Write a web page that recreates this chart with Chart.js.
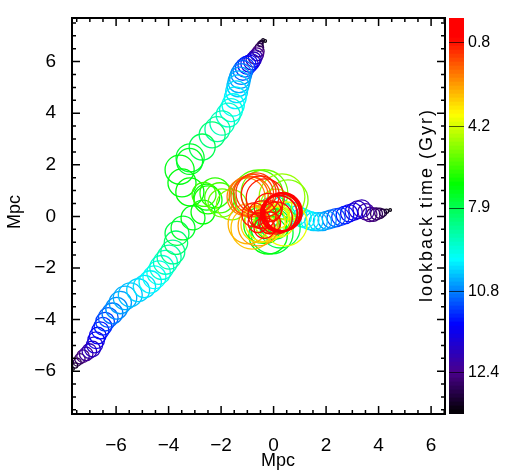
<!DOCTYPE html>
<html>
<head>
<meta charset="utf-8">
<script src="https://cdn.jsdelivr.net/npm/chart.js@4"></script>
<style>
html, body { margin: 0; padding: 0; background: #fff; }
#wrap { position: relative; width: 511px; height: 472px; }
#orbits { position: absolute; left: 0; top: 0; }
#cbar { position: absolute; left: 405px; top: 0; }
</style>
</head>
<body>
<div id="wrap">
  <canvas id="orbits" width="511" height="472"></canvas>
  <canvas id="cbar" width="106" height="472"></canvas>
</div>
<script>
// halo tracks in Mpc, oldest first. t = lookback time in Gyr, r = halo radius in Mpc
const topX = [-0.32,-0.40,-0.46,-0.50,-0.54,-0.58,-0.63,-0.70,-0.76,-0.83,-0.92,-1.01,-1.09,-1.17,-1.23,-1.28,-1.32,-1.36,-1.41,-1.46,-1.54,-1.62,-1.73,-1.96,-2.14,-2.34,-2.72,-3.18,-3.20,-3.58,-3.49,-3.19];
const topY = [6.80,6.84,6.76,6.68,6.55,6.40,6.28,6.18,6.08,5.99,5.92,5.86,5.77,5.66,5.52,5.37,5.22,5.06,4.83,4.60,4.32,4.12,3.93,3.62,3.38,3.16,2.69,2.27,2.13,1.81,1.30,0.95];
const topR = [0.05,0.05,0.07,0.10,0.16,0.22,0.25,0.27,0.29,0.31,0.33,0.35,0.37,0.38,0.40,0.41,0.42,0.42,0.42,0.42,0.43,0.44,0.46,0.47,0.48,0.50,0.50,0.54,0.50,0.56,0.54,0.54];
const topT = [13.3,13.2,13.1,13.0,12.8,12.6,12.4,12.2,12.0,11.8,11.6,11.4,11.2,11.0,10.8,10.6,10.4,10.2,10.0,9.8,9.6,9.4,9.2,8.95,8.7,8.3,7.9,7.5,7.3,7.1,7.0,6.9];

const lowX = [-7.64,-7.56,-7.48,-7.38,-7.26,-7.14,-7.02,-6.90,-6.82,-6.76,-6.70,-6.60,-6.50,-6.42,-6.30,-6.14,-5.98,-5.84,-5.66,-5.46,-5.16,-4.92,-4.70,-4.54,-4.38,-4.26,-4.12,-3.98,-3.84,-3.72,-3.68,-3.45,-3.07,-2.69];
const lowY = [-5.91,-5.78,-5.65,-5.52,-5.42,-5.33,-5.22,-5.14,-4.98,-4.80,-4.62,-4.42,-4.26,-4.08,-3.92,-3.76,-3.56,-3.34,-3.16,-3.04,-2.86,-2.72,-2.54,-2.36,-2.18,-1.98,-1.78,-1.58,-1.38,-1.02,-0.66,-0.45,-0.06,0.17];
const lowR = [0.05,0.10,0.15,0.20,0.24,0.26,0.28,0.30,0.31,0.32,0.32,0.33,0.34,0.36,0.38,0.40,0.42,0.43,0.45,0.46,0.44,0.43,0.43,0.44,0.45,0.46,0.46,0.46,0.46,0.45,0.46,0.46,0.46,0.46];
const lowT = [13.3,13.1,12.9,12.7,12.5,12.3,12.15,12.0,11.85,11.7,11.55,11.4,11.3,11.15,11.0,10.85,10.7,10.55,10.4,10.25,10.1,9.95,9.8,9.65,9.45,9.25,9.05,8.8,8.55,8.2,7.8,7.4,7.1,6.9];

const rightX = [4.44,4.30,4.17,4.05,3.92,3.80,3.66,3.52,3.36,3.20,3.05,2.88,2.72,2.55,2.38,2.20,2.04,1.86,1.70,1.53,1.38,1.22,1.08,0.90,0.70];
const rightY = [0.25,0.20,0.14,0.12,0.10,0.07,0.08,0.18,0.30,0.26,0.18,0.12,0.05,-0.01,-0.05,-0.10,-0.15,-0.20,-0.21,-0.20,-0.16,-0.10,-0.04,0.04,0.17];
const rightR = [0.05,0.08,0.14,0.20,0.23,0.26,0.28,0.31,0.34,0.34,0.33,0.33,0.34,0.34,0.35,0.35,0.35,0.35,0.35,0.35,0.35,0.35,0.36,0.37,0.38];
const rightT = [13.3,13.2,13.05,12.9,12.75,12.6,12.45,12.3,12.1,11.95,11.8,11.6,11.4,11.25,11.1,10.9,10.7,10.5,10.3,10.1,9.9,9.75,9.6,9.5,9.4];

const coreX = [0.44,0.30,0.02,0.25,0.05,-0.06,-0.21,-0.30,-0.44,-0.10,0.12,-0.25,-2.55,-2.50,-2.23,-2.65,-2.05,-0.59,-1.96,-1.60,-0.35,0.55,0.32,0.10,0.44,0.20,-0.06,0.15,-0.32,-0.55,-0.82,-0.97,-0.59,-1.05,-0.95,-0.86,-0.76,-0.67,-0.51,-0.32,-0.75,-0.20,-0.44,-0.60,-0.35,-0.10,-0.50,-0.15,0.10,0.21,0.27,0.32,0.36];
const coreY = [0.17,-0.05,0.06,-0.45,-0.30,-0.64,-0.72,-0.50,-0.33,-0.30,-0.15,-0.05,0.75,0.64,0.91,0.85,0.72,0.83,0.52,0.45,0.90,0.64,0.76,0.45,-0.29,-0.20,-0.14,-0.05,-0.21,-0.30,-0.45,-0.29,-0.37,0.76,0.80,0.76,0.85,0.91,0.83,0.72,0.06,0.35,0.06,-0.25,-0.45,0.20,-0.10,-0.25,-0.06,0.10,0.14,0.17,0.17];
const coreR = [0.62,0.55,0.70,0.77,0.58,0.81,0.74,0.55,0.70,0.60,0.50,0.45,0.50,0.54,0.58,0.46,0.58,0.96,0.54,0.58,0.90,0.77,0.88,0.60,0.85,0.60,0.70,0.42,0.77,0.70,0.81,0.77,0.77,0.73,0.75,0.77,0.77,0.77,0.73,0.73,0.46,0.54,0.54,0.38,0.40,0.40,0.35,0.42,0.62,0.70,0.73,0.73,0.73];
const coreT = [9.3,9.0,8.5,7.9,7.7,7.5,7.0,6.9,6.6,6.8,6.4,6.2,6.9,6.6,6.3,6.1,6.0,5.8,5.6,5.2,5.5,5.3,5.0,4.7,4.0,3.95,3.9,3.6,3.5,3.2,3.0,2.8,2.5,2.2,2.0,1.8,1.5,1.3,1.0,0.9,0.9,0.85,0.8,0.85,0.8,0.8,0.75,0.7,0.7,0.6,0.5,0.4,0.3];

// colour bar: lookback ticks and where they sit on the bar (0 = bottom, 1 = top)
const cbarTicks = [12.4, 10.8, 7.9, 4.2, 0.8];
const cbarFrac = [0.105, 0.31, 0.52, 0.727, 0.937];
const cbarSteps = 99;

const rampStops = [0, 0.105, 0.225, 0.31, 0.39, 0.58, 0.755, 0.95, 1];
const rampR = [0, 74, 0, 0, 0, 0, 255, 255, 255];
const rampG = [0, 0, 0, 130, 255, 255, 255, 0, 0];
const rampB = [0, 140, 255, 255, 255, 0, 0, 0, 0];

const PX_PER_MPC = 26;
const fontName = '"Liberation Sans", Arial, sans-serif';

function lerpTable(v, xs, ys) {
  if (v <= xs[0]) return ys[0];
  for (let i = 1; i < xs.length; i++) {
    if (v <= xs[i]) return ys[i-1] + (ys[i]-ys[i-1]) * (v-xs[i-1]) / (xs[i]-xs[i-1]);
  }
  return ys[ys.length-1];
}

function rampColor(f) {
  const r = Math.round(lerpTable(f, rampStops, rampR));
  const g = Math.round(lerpTable(f, rampStops, rampG));
  const b = Math.round(lerpTable(f, rampStops, rampB));
  return 'rgb(' + r + ',' + g + ',' + b + ')';
}

// lookback time -> colour, extended past the last labelled ticks
const timeKnots = [0, 0.8, 4.2, 7.9, 10.8, 12.4, 13.4];
const fracKnots = [1, 0.937, 0.727, 0.52, 0.31, 0.105, 0];
function timeColor(t) {
  return rampColor(lerpTable(t, timeKnots, fracKnots));
}

function track(xs, ys, rs, ts) {
  return {
    data: xs.map((x, i) => ({ x: x, y: ys[i], r: rs[i] * PX_PER_MPC })),
    borderColor: ts.map(timeColor),
    backgroundColor: 'rgba(0,0,0,0)',
    borderWidth: ts.map(t => t <= 0.6 ? 1.8 : 1.3),
    clip: false
  };
}

function sideLabel(ctx, text, x, y, size, rotated, spacing) {
  ctx.save();
  ctx.translate(x, y);
  if (rotated) ctx.rotate(-Math.PI / 2);
  ctx.font = size + 'px ' + fontName;
  ctx.letterSpacing = spacing;
  ctx.fillStyle = '#000';
  ctx.textAlign = 'center';
  ctx.textBaseline = 'alphabetic';
  ctx.fillText(text, 0, 0);
  ctx.restore();
}

// inward ticks on all four sides, the box and the axis names
const boxTicks = {
  id: 'boxTicks',
  afterDatasetsDraw(chart) {
    const c = chart.ctx, a = chart.chartArea;
    c.save();
    c.strokeStyle = '#000';
    c.lineWidth = 1.5;
    c.beginPath();
    chart.scales.x.ticks.forEach(t => {
      const px = chart.scales.x.getPixelForValue(t.value);
      const len = t.value % 2 === 0 ? 8 : 4;
      c.moveTo(px, a.bottom); c.lineTo(px, a.bottom - len);
      c.moveTo(px, a.top); c.lineTo(px, a.top + len);
    });
    chart.scales.y.ticks.forEach(t => {
      const py = chart.scales.y.getPixelForValue(t.value);
      const len = t.value % 2 === 0 ? 8 : 4;
      c.moveTo(a.left, py); c.lineTo(a.left + len, py);
      c.moveTo(a.right, py); c.lineTo(a.right - len, py);
    });
    c.stroke();
    c.lineWidth = 2;
    c.strokeRect(a.left, a.top, a.right - a.left, a.bottom - a.top);
    c.restore();
    sideLabel(c, 'Mpc', 278, 466, 18, false, '0px');
    sideLabel(c, 'Mpc', 20, 212, 18, true, '0px');
  }
};

function mpcLabel(v) {
  if (v % 2 !== 0) return '';
  return v < 0 ? '\u2212' + Math.abs(v) : String(v);
}

new Chart(document.getElementById('orbits'), {
  type: 'bubble',
  data: {
    datasets: [
      track(coreX, coreY, coreR, coreT),
      track(topX, topY, topR, topT),
      track(lowX, lowY, lowR, lowT),
      track(rightX, rightY, rightR, rightT)
    ]
  },
  options: {
    responsive: false,
    animation: false,
    events: [],
    layout: { autoPadding: false, padding: { top: 18, right: 66, left: 0, bottom: 0 } },
    plugins: { legend: { display: false }, tooltip: { enabled: false } },
    scales: {
      x: {
        min: -7.68, max: 6.53,
        grid: { display: false },
        border: { display: false },
        ticks: {
          stepSize: 0.5, includeBounds: false, autoSkip: false, maxRotation: 0, padding: 12,
          color: '#000', font: { family: fontName, size: 19 }, callback: mpcLabel
        },
        afterFit(s) { s.height = 58; s.paddingLeft = 0; s.paddingRight = 0; }
      },
      y: {
        min: -7.66, max: 7.69,
        grid: { display: false },
        border: { display: false },
        ticks: {
          stepSize: 0.5, includeBounds: false, autoSkip: false, padding: 8,
          color: '#000', font: { family: fontName, size: 19 }, callback: mpcLabel
        },
        afterFit(s) { s.width = 72; s.paddingTop = 0; s.paddingBottom = 0; }
      }
    }
  },
  plugins: [boxTicks]
});

const cbarTitle = {
  id: 'cbarTitle',
  afterDraw(chart) {
    sideLabel(chart.ctx, 'lookback time (Gyr)', 27, 205, 18, true, '2px');
  }
};

const cbarSets = [];
for (let i = 0; i < cbarSteps; i++) {
  cbarSets.push({
    data: [1],
    backgroundColor: rampColor((i + 0.5) / cbarSteps),
    borderWidth: 0,
    barPercentage: 1,
    categoryPercentage: 1,
    stack: 'bar'
  });
}

new Chart(document.getElementById('cbar'), {
  type: 'bar',
  data: { labels: [''], datasets: cbarSets },
  options: {
    responsive: false,
    animation: false,
    events: [],
    layout: { autoPadding: false, padding: { top: 18, bottom: 58, left: 44, right: 0 } },
    plugins: { legend: { display: false }, tooltip: { enabled: false } },
    scales: {
      x: { display: false, stacked: true },
      y: {
        position: 'right',
        stacked: true,
        min: 0, max: cbarSteps,
        afterBuildTicks(s) { s.ticks = cbarFrac.map(f => ({ value: f * cbarSteps })); },
        grid: { drawTicks: false, color: 'rgba(0,0,0,0.65)', lineWidth: 1, z: 1 },
        border: { display: false },
        ticks: {
          autoSkip: false, padding: 4, z: 1, color: '#000',
          font: { family: fontName, size: 16 },
          callback: (v, i) => cbarTicks[i].toFixed(1)
        },
        afterFit(s) { s.width = 47; s.paddingTop = 0; s.paddingBottom = 0; }
      }
    }
  },
  plugins: [cbarTitle]
});
</script>
</body>
</html>
